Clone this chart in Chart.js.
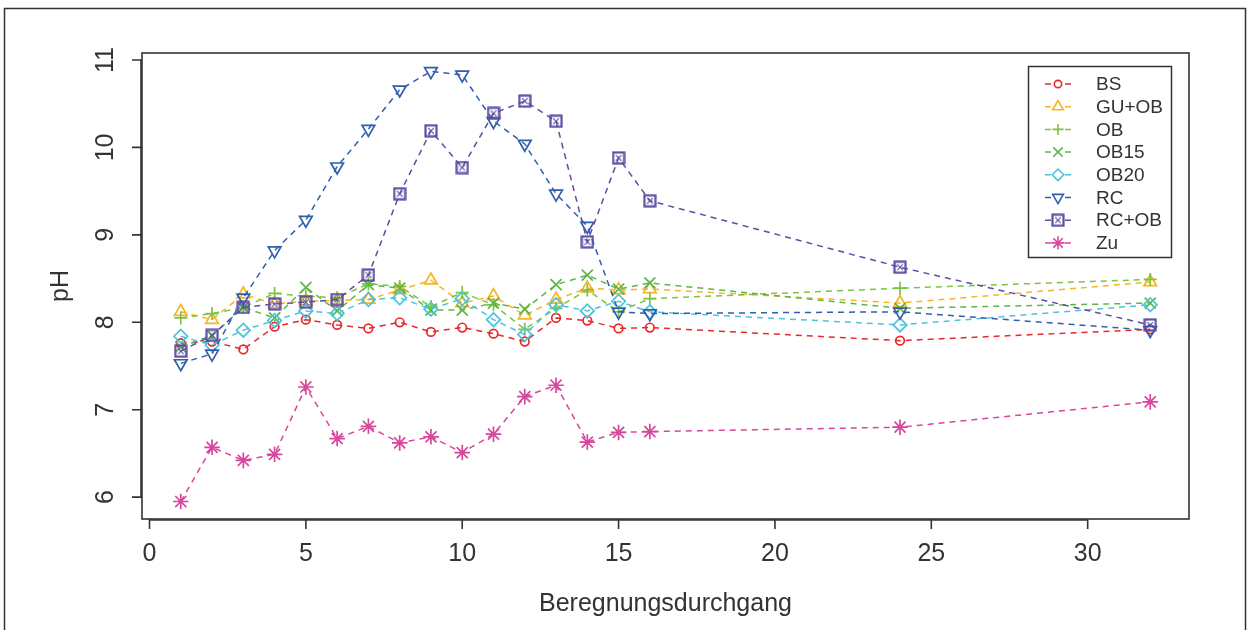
<!DOCTYPE html>
<html>
<head>
<meta charset="utf-8">
<script src="https://cdn.jsdelivr.net/npm/chart.js@4/dist/chart.umd.min.js"></script>
<style>
  html, body { margin: 0; padding: 0; background: #fff; }
  #wrap { width: 1250px; height: 630px; }
</style>
</head>
<body>
<div id="wrap"><canvas id="phChart" width="1250" height="630"></canvas></div>
<script>
// Data
const runs = [1, 2, 3, 4, 5, 6, 7, 8, 9, 10, 11, 12, 13, 14, 15, 16, 24, 32];

const bs    = [7.76, 7.78, 7.69, 7.95, 8.03, 7.97, 7.93, 8.00, 7.89, 7.94, 7.87, 7.78, 8.05, 8.02, 7.93, 7.94, 7.79, 7.92];
const guOb  = [8.12, 8.03, 8.32, 8.21, 8.24, 8.25, 8.26, 8.37, 8.48, 8.22, 8.30, 8.08, 8.26, 8.39, 8.37, 8.38, 8.22, 8.46];
const ob    = [8.05, 8.10, 8.17, 8.33, 8.30, 8.28, 8.44, 8.41, 8.18, 8.34, 8.20, 7.92, 8.16, 8.37, 8.12, 8.27, 8.39, 8.49];
const ob15  = [7.72, 7.85, 8.17, 8.05, 8.40, 8.13, 8.43, 8.39, 8.14, 8.14, 8.22, 8.15, 8.43, 8.54, 8.38, 8.45, 8.16, 8.22];
const ob20  = [7.84, 7.74, 7.91, 8.02, 8.13, 8.10, 8.26, 8.28, 8.15, 8.27, 8.03, 7.86, 8.20, 8.13, 8.24, 8.12, 7.97, 8.20];
const rc    = [7.53, 7.64, 8.28, 8.82, 9.17, 9.78, 10.21, 10.66, 10.87, 10.83, 10.30, 10.04, 9.47, 9.10, 8.12, 8.10, 8.12, 7.91];
const rcOb  = [7.67, 7.85, 8.17, 8.21, 8.23, 8.26, 8.54, 9.47, 10.19, 9.77, 10.39, 10.53, 10.30, 8.92, 9.88, 9.39, 8.63, 7.97];
const zu    = [5.95, 6.57, 6.42, 6.49, 7.26, 6.67, 6.81, 6.62, 6.69, 6.51, 6.72, 7.15, 7.28, 6.63, 6.74, 6.75, 6.80, 7.09];

const seriesNames = ['BS', 'GU+OB', 'OB', 'OB15', 'OB20', 'RC', 'RC+OB', 'Zu'];
const xTicks = [0, 5, 10, 15, 20, 25, 30];
const yTicks = [6, 7, 8, 9, 10, 11];

const xTitle = 'Beregnungsdurchgang';
const yTitle = 'pH';

// Styles
const AXIS_COLOR = '#333333';
const FONT = '"Liberation Sans", Arial, sans-serif';

// square with an x inside (R pch 7)
function makeBoxX(color) {
    const c = document.createElement('canvas');
    c.width = 14;
    c.height = 14;
    const g = c.getContext('2d');
    g.strokeStyle = color;
    g.lineWidth = 2.2;
    g.strokeRect(1.5, 1.5, 11, 11);
    g.lineWidth = 1.2;
    g.beginPath();
    g.moveTo(4.2, 4.2); g.lineTo(9.8, 9.8);
    g.moveTo(9.8, 4.2); g.lineTo(4.2, 9.8);
    g.stroke();
    return c;
}

const styles = [
    { color: '#E8282B', pointStyle: 'circle',   radius: 4.3, rotation: 0 },
    { color: '#F7B522', pointStyle: 'triangle', radius: 7.3, rotation: 0 },
    { color: '#7DC243', pointStyle: 'cross',    radius: 6.5, rotation: 0 },
    { color: '#5DB648', pointStyle: 'crossRot', radius: 7.8, rotation: 0 },
    { color: '#4DC3DB', pointStyle: 'rectRot',  radius: 6.8, rotation: 0 },
    { color: '#2F5FAD', pointStyle: 'triangle', radius: 7.3, rotation: 180 },
    { color: '#5B4EA3', pointStyle: null,       radius: 6,   rotation: 0 },
    { color: '#D6479D', pointStyle: 'star',     radius: 7.8, rotation: 0 }
];
styles[6].pointStyle = makeBoxX(styles[6].color);

const allSeries = [bs, guOb, ob, ob15, ob20, rc, rcOb, zu];

function toPoints(values) {
    return runs.map((r, i) => ({ x: r, y: values[i] }));
}

const datasets = allSeries.map((values, i) => ({
    label: seriesNames[i],
    data: toPoints(values),
    borderColor: styles[i].color,
    backgroundColor: 'rgba(0,0,0,0)',
    borderWidth: 1.5,
    borderDash: [6, 5],
    pointStyle: styles[i].pointStyle,
    pointRadius: styles[i].radius,
    pointRotation: styles[i].rotation,
    pointBorderColor: styles[i].color,
    pointBackgroundColor: 'rgba(0,0,0,0)',
    pointBorderWidth: 1.7,
    tension: 0,
    fill: false,
    order: allSeries.length - i
}));

// Axes, frame and titles drawn R style
const axesPlugin = {
    id: 'rAxes',
    afterDraw(chart) {
        const { ctx, chartArea: a, scales } = chart;
        ctx.save();

        // outer figure frame
        ctx.strokeStyle = AXIS_COLOR;
        ctx.lineWidth = 1.5;
        ctx.strokeRect(4.5, 8.5, 1241, 640);

        // plot box
        ctx.lineWidth = 1.6;
        ctx.strokeRect(a.left, a.top, a.right - a.left, a.bottom - a.top);

        ctx.fillStyle = AXIS_COLOR;
        ctx.font = '25px ' + FONT;

        // x axis
        ctx.textAlign = 'center';
        ctx.textBaseline = 'middle';
        const x0 = scales.x.getPixelForValue(xTicks[0]);
        const x1 = scales.x.getPixelForValue(xTicks[xTicks.length - 1]);
        ctx.beginPath();
        ctx.moveTo(x0, a.bottom + 1);
        ctx.lineTo(x1, a.bottom + 1);
        xTicks.forEach(t => {
            const px = scales.x.getPixelForValue(t);
            ctx.moveTo(px, a.bottom);
            ctx.lineTo(px, a.bottom + 10);
        });
        ctx.stroke();
        xTicks.forEach(t => {
            ctx.fillText(String(t), scales.x.getPixelForValue(t), a.bottom + 35);
        });

        // y axis
        const y0 = scales.y.getPixelForValue(yTicks[0]);
        const y1 = scales.y.getPixelForValue(yTicks[yTicks.length - 1]);
        ctx.beginPath();
        ctx.moveTo(a.left - 1, y0);
        ctx.lineTo(a.left - 1, y1);
        yTicks.forEach(t => {
            const py = scales.y.getPixelForValue(t);
            ctx.moveTo(a.left, py);
            ctx.lineTo(a.left - 10, py);
        });
        ctx.stroke();
        yTicks.forEach(t => {
            ctx.save();
            ctx.translate(a.left - 36, scales.y.getPixelForValue(t));
            ctx.rotate(-Math.PI / 2);
            ctx.fillText(String(t), 0, 0);
            ctx.restore();
        });

        // titles
        ctx.fillText(xTitle, (a.left + a.right) / 2, a.bottom + 85);
        ctx.save();
        ctx.translate(61, (a.top + a.bottom) / 2);
        ctx.rotate(-Math.PI / 2);
        ctx.fillText(yTitle, 0, 0);
        ctx.restore();

        ctx.restore();
    }
};

// Legend box inside the plot, top right
const legendPlugin = {
    id: 'rLegend',
    afterDraw(chart) {
        const ctx = chart.ctx;
        const box = { left: 1028.5, top: 66.5, width: 143, height: 191 };
        ctx.save();
        ctx.strokeStyle = AXIS_COLOR;
        ctx.lineWidth = 1.5;
        ctx.strokeRect(box.left, box.top, box.width, box.height);

        ctx.font = '19px ' + FONT;
        ctx.textAlign = 'left';
        ctx.textBaseline = 'middle';
        seriesNames.forEach((name, i) => {
            const y = 84 + i * 22.7;
            const s = styles[i];
            ctx.strokeStyle = s.color;
            ctx.fillStyle = 'rgba(0,0,0,0)';
            ctx.lineWidth = 1.5;
            ctx.beginPath();
            ctx.moveTo(1045, y); ctx.lineTo(1051, y);
            ctx.moveTo(1065, y); ctx.lineTo(1071, y);
            ctx.stroke();
            ctx.lineWidth = 1.6;
            Chart.helpers.drawPoint(ctx, {
                pointStyle: s.pointStyle,
                radius: s.radius * 0.85,
                rotation: s.rotation,
                borderWidth: 1.6
            }, 1058, y);
            ctx.fillStyle = AXIS_COLOR;
            ctx.fillText(name, 1096, y + 1);
        });
        ctx.restore();
    }
};

new Chart(document.getElementById('phChart').getContext('2d'), {
    type: 'line',
    data: { datasets: datasets },
    options: {
        responsive: false,
        animation: false,
        layout: { padding: { left: 142, right: 61, top: 53, bottom: 111 } },
        plugins: {
            legend: { display: false },
            tooltip: { enabled: false }
        },
        scales: {
            x: { type: 'linear', min: -0.24, max: 33.24, display: false },
            y: { type: 'linear', min: 5.75, max: 11.08, display: false }
        }
    },
    plugins: [axesPlugin, legendPlugin]
});
</script>
</body>
</html>
